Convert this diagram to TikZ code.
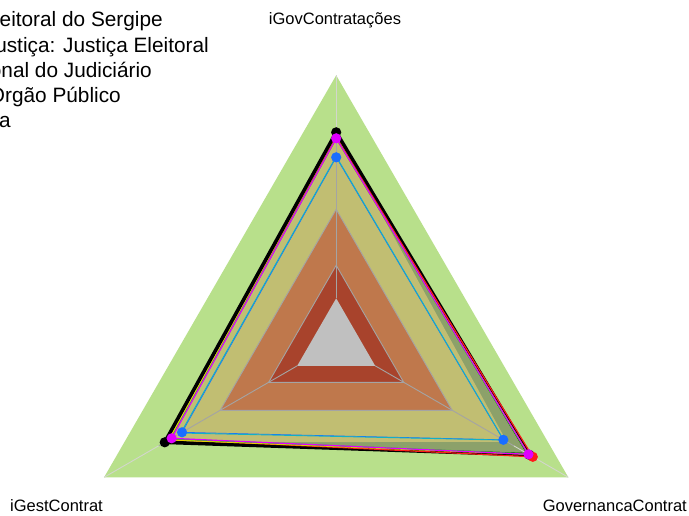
\documentclass[tikz,border=0pt]{standalone}
\usepackage{fontspec}
\setmainfont{Liberation Sans}
\definecolor{cGreen}{HTML}{B8E08B}
\definecolor{cKhaki}{HTML}{C1BE72}
\definecolor{cStrip}{HTML}{8CA16A}
\definecolor{cOrange}{HTML}{BF784C}
\definecolor{cDred}{HTML}{A8432C}
\definecolor{cCore}{HTML}{C0C0C0}
\definecolor{cGrid}{HTML}{A4A4A4}
\definecolor{cSpokeOut}{HTML}{D2D6CC}
\definecolor{sBlue}{HTML}{1A6EFF}
\definecolor{sCyan}{HTML}{10B0C8}
\definecolor{sMag}{HTML}{E000FF}
\definecolor{sRed}{HTML}{FF1A1A}
\definecolor{sGreen}{HTML}{20D020}
\definecolor{sYel}{HTML}{E8D000}
\tikzset{
  legendtext/.style={font=\fontsize{20.8}{25}\selectfont, anchor=base east, inner sep=0pt, text=black},
  axislabel/.style={font=\fontsize{16.5}{20}\selectfont, inner sep=0pt, text=black},
  serline/.style={line width=1.2pt, line join=round},
  gridline/.style={draw=cGrid, line width=0.9pt},
  dotmark/.style={radius=5.1pt}
}
\begin{document}
\begin{tikzpicture}[x=1pt,y=-1pt]
\useasboundingbox (0,0) rectangle (689,515);
\clip (0,0) rectangle (689,515);
\fill[white] (0,0) rectangle (689,515);
\begin{scope}[shift={(336.2,343.3)}]
  % background bands
  \fill[cGreen] (270:268) -- (150:268) -- (30:268) -- cycle;
  \fill[cStrip] (270:211) -- (150:198) -- (30:223) -- cycle;
  \fill[cKhaki] (270:211) -- (150:198) -- (30:197) -- cycle;
  \fill[cOrange] (270:134) -- (150:134) -- (30:134) -- cycle;
  \fill[cDred] (270:78) -- (150:78) -- (30:78) -- cycle;
  \fill[cCore] (270:45) -- (150:45) -- (30:45) -- cycle;
  % spokes
  \foreach \a in {270,150,30}{
    \draw[cGrid, line width=0.9pt] (\a:45) -- (\a:205);
    \draw[cSpokeOut, line width=0.9pt] (\a:205) -- (\a:268);
  }
  % grid outlines
  \draw[gridline] (270:134) -- (150:134) -- (30:134) -- cycle;
  \draw[gridline] (270:78) -- (150:78) -- (30:78) -- cycle;
  % series
  \draw[black, line width=3.6pt, line join=round] (270:211) -- (150:198) -- (30:223) -- cycle;
  \draw[serline, sRed] (270:206) -- (150:192) -- (30:227) -- cycle;
  \draw[serline, sYel] (270:204.5) -- (150:193) -- (30:222) -- cycle;
  \draw[serline, sGreen] (270:205) -- (150:191) -- (30:221) -- cycle;
  \draw[serline, sBlue, line width=0.7pt] (270:186) -- (150:178) -- (30:193) -- cycle;
  \draw[serline, sCyan, line width=0.9pt] (270:187) -- (150:179.5) -- (30:193.5) -- cycle;
  \draw[serline, sMag] (270:205) -- (150:190) -- (30:222) -- cycle;
  % points
  \fill[black] (270:211) circle[dotmark];
  \fill[black] (150:198) circle[dotmark];
  \fill[black] (30:223) circle[dotmark];
  \fill[sRed] (30:227) circle[dotmark];
  \fill[sBlue] (270:186) circle[dotmark];
  \fill[sBlue] (150:178) circle[dotmark];
  \fill[sBlue] (30:193) circle[dotmark];
  \fill[sMag] (270:205) circle[dotmark];
  \fill[sMag] (150:190) circle[dotmark];
  \fill[sMag] (30:222) circle[dotmark];
\end{scope}
% axis labels
\node[axislabel, anchor=base] (labTop) at (335,24.5) {iGovContratações};
\node[axislabel, anchor=base west] (labLeft) at (10,511) {iGestContrat};
\node[axislabel, anchor=base east] (labRight) at (687,511) {GovernancaContrat};
% legend (clipped at the left edge)
\node[legendtext] (leg1) at (163,26.7) {Tribunal Regional Eleitoral do Sergipe};
\node[legendtext] (leg2) at (209,52) {Segmento de Justiça: Justiça Eleitoral};
\node[legendtext] (leg3) at (152,77.3) {Média Nacional do Judiciário};
\node[legendtext] (leg4) at (121,102) {Média Orgão Público};
\node[legendtext] (leg5) at (11,127.7) {Média};
\end{tikzpicture}
\end{document}
